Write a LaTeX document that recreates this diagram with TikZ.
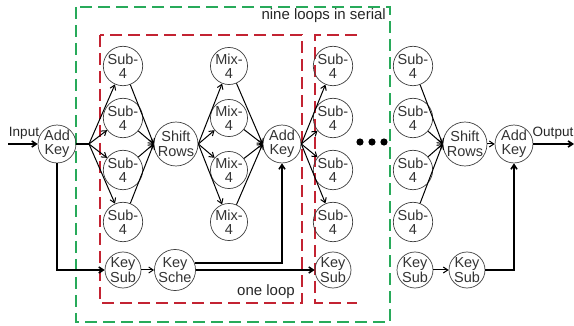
\documentclass[tikz,border=0pt]{standalone}
\usepackage{fontspec}
\setmainfont{Liberation Sans}
\usetikzlibrary{arrows.meta}
\begin{document}
\begin{tikzpicture}[x=1pt,y=-1pt,
  blk/.style={circle,draw=black!75,line width=0.7pt,minimum size=36pt,inner sep=0pt,
    align=center,font=\fontsize{14.5}{14.5}\selectfont,text=black!80},
  arr/.style={-{Straight Barb[length=4.5pt,width=6pt]},line width=1pt},
  thk/.style={-{Straight Barb[length=4.5pt,width=6pt]},line width=1.6pt},
  lbl/.style={font=\fontsize{15}{15}\selectfont,text=black!85,inner sep=0pt},
  gbox/.style={draw={rgb,255:red,40;green,170;blue,90},line width=1.6pt,dash pattern=on 12pt off 6pt},
  rbox/.style={draw={rgb,255:red,195;green,35;blue,50},line width=1.6pt,dash pattern=on 12pt off 6pt}]
\useasboundingbox (0,0) rectangle (574,326);
% boxes
\draw[gbox] (76,7) rectangle (390,322);
\draw[rbox] (100,35) rectangle (302,303);
\draw[rbox] (357,35) -- (315,35) -- (315,303) -- (357,303);
\node[lbl,anchor=east] (nine) at (386,16) {nine loops in serial};
\node[lbl] (one) at (266,292) {one loop};
% nodes
\node[blk] (ak1) at (57,144) {Add\\Key};
\foreach \i/\y in {1/66,2/118,3/170,4/222}{
  \node[blk] (sa\i) at (123,\y) {Sub-\\4};
  \node[blk] (m\i) at (229,\y) {Mix-\\4};
  \node[blk] (sb\i) at (333,\y) {Sub-\\4};
  \node[blk] (sc\i) at (413,\y) {Sub-\\4};
}
\node[blk] (sr1) at (176,144) {Shift\\Rows};
\node[blk] (ak2) at (282,144) {Add\\Key};
\node[blk] (sr2) at (465,144) {Shift\\Rows};
\node[blk] (ak3) at (514,144) {Add\\Key};
\node[blk] (ks1) at (123,270) {Key\\Sub};
\node[blk] (kc) at (175,270) {Key\\Sche};
\node[blk] (ks2) at (333,270) {Key\\Sub};
\node[blk] (ks3) at (415,270) {Key\\Sub};
\node[blk] (ks4) at (467,270) {Key\\Sub};
\coordinate (in) at (8,144);
\coordinate (out) at (574,144);
\coordinate (j1) at (89,144);
\node[lbl,font=\fontsize{13.5}{13.5}\selectfont] (inl) at (24,133) {Input};
\node[lbl,font=\fontsize{13.5}{13.5}\selectfont] (outl) at (553,133) {Output};
\foreach \x in {360,372,384}{\fill (\x,142) circle (3.6pt);}
% connectors
\draw[thk] (in) -- (ak1);
\draw[line width=1.6pt] (ak1) -- (j1);
\foreach \i in {1,2,3,4}{
  \draw[arr] (j1) -- (sa\i);
  \draw[arr] (sa\i) -- (sr1.west);
  \draw[arr] (sr1.east) -- (m\i);
  \draw[arr] (m\i) -- (ak2.west);
  \draw[arr] (ak2.east) -- (sb\i);
  \draw[arr] (sc\i) -- (sr2.west);
}
\draw[arr] (sr2) -- (ak3);
\draw[thk] (ak3) -- (out);
\draw[thk] (ak1) |- (ks1);
\draw[arr] (ks1) -- (kc);
\draw[thk] (kc.20) -| (ak2);
\draw[thk] (kc) -- (ks2);
\draw[arr] (ks3) -- (ks4);
\draw[thk] (ks4) -| (ak3);
\end{tikzpicture}
\end{document}
